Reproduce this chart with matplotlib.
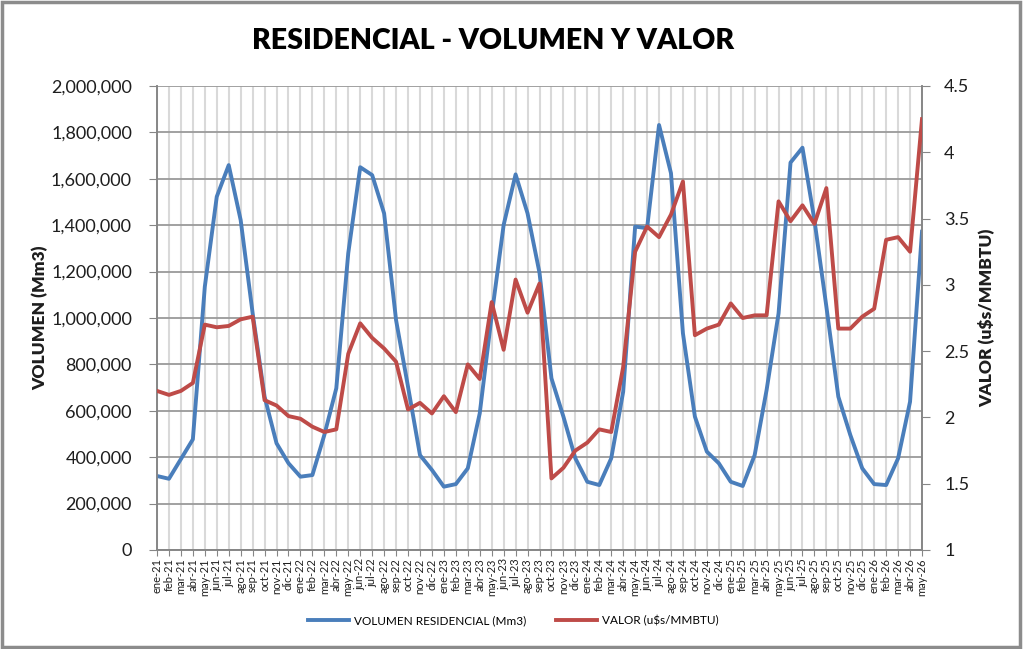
import matplotlib
matplotlib.use("Agg")
import matplotlib.pyplot as plt
import matplotlib.patches as patches
from matplotlib.ticker import FuncFormatter, MultipleLocator

plt.rcParams['font.family'] = ['Lato', 'DejaVu Sans']

# months ene-21 .. may-26
mesesAbr = ["ene", "feb", "mar", "abr", "may", "jun", "jul", "ago", "sep", "oct", "nov", "dic"]
meses = ["%s-%d" % (m, a) for a in range(21, 27) for m in mesesAbr][:65]

# volumen residencial (Mm3)
volumen = [
    319000, 307000, 392000, 477000, 1135000, 1523000, 1659000, 1422000, 1021000, 661000, 460000, 374000,
    316000, 323000, 496000, 697000, 1279000, 1650000, 1616000, 1451000, 991000, 704000, 409000, 345000,
    273000, 284000, 352000, 589000, 1010000, 1401000, 1619000, 1451000, 1195000, 740000, 575000, 395000,
    294000, 280000, 395000, 682000, 1394000, 1387000, 1832000, 1624000, 934000, 575000, 424000, 374000,
    294000, 276000, 409000, 690000, 1020000, 1670000, 1734000, 1422000, 1049000, 661000, 496000, 352000,
    284000, 280000, 395000, 639000, 1372000,
]

# valor (u$s/MMBTU)
valor = [
    2.20, 2.17, 2.20, 2.26, 2.70, 2.68, 2.69, 2.74, 2.76, 2.13, 2.09, 2.01,
    1.99, 1.93, 1.89, 1.91, 2.48, 2.71, 2.60, 2.52, 2.42, 2.06, 2.11, 2.03,
    2.16, 2.04, 2.40, 2.29, 2.87, 2.51, 3.04, 2.79, 3.01, 1.54, 1.62, 1.75,
    1.81, 1.91, 1.89, 2.38, 3.25, 3.44, 3.36, 3.53, 3.78, 2.62, 2.67, 2.70,
    2.86, 2.75, 2.77, 2.77, 3.63, 3.48, 3.60, 3.46, 3.73, 2.67, 2.67, 2.76,
    2.82, 3.34, 3.36, 3.25, 4.25,
]

azul = "#4a7ebb"
rojo = "#be4b48"
txtColor = "#1e1e1e"

fig = plt.figure(figsize=(10.23, 6.49), dpi=100)
ax = fig.add_axes([157 / 1023, 1 - 550 / 649, (922 - 157) / 1023, (550 - 86) / 649])
ax2 = ax.twinx()

x = list(range(len(meses)))
lineVol, = ax.plot(x, volumen, color=azul, lw=2.8, solid_joinstyle="round", zorder=3)
lineVal, = ax2.plot(x, valor, color=rojo, lw=2.8, solid_joinstyle="round", zorder=3)

ax.set_xlim(0, len(meses) - 1)
ax.set_ylim(0, 2000000)
ax2.set_ylim(1, 4.5)

ax.yaxis.set_major_locator(MultipleLocator(200000))
ax.yaxis.set_major_formatter(FuncFormatter(lambda v, p: "{:,.0f}".format(v)))
ax2.yaxis.set_major_locator(MultipleLocator(0.5))
ax2.yaxis.set_major_formatter(FuncFormatter(lambda v, p: ("%g" % v)))

ax.set_xticks(x)
ax.set_xticklabels(meses, rotation=90, fontsize=8, color=txtColor)
ax.tick_params(axis="x", length=4, color="#868686", pad=2)
ax.tick_params(axis="y", labelsize=13, length=6, color="#868686", labelcolor=txtColor, pad=12)
ax2.tick_params(axis="y", labelsize=13, length=6, color="#868686", labelcolor=txtColor, pad=10)

# gridlines: light vertical per month, darker horizontal
ax.grid(axis="x", color="#d9d9d9", lw=1.5)
ax.grid(axis="y", color="#9a9a9a", lw=1.3)
ax.set_axisbelow(True)

for a in (ax, ax2):
    for s in a.spines.values():
        s.set_color("#868686")
        s.set_linewidth(1.2)
    a.spines["top"].set_visible(False)

ax.set_ylabel("VOLUMEN (Mm3)", fontsize=12.5, fontweight="heavy", color=txtColor, labelpad=2)
ax2.set_ylabel("VALOR (u$s/MMBTU)", fontsize=12.5, fontweight="heavy", color=txtColor, labelpad=6)

fig.text(493 / 1023, 1 - 41 / 649, "RESIDENCIAL - VOLUMEN Y VALOR", fontsize=20.5,
         fontweight="heavy", ha="center", va="center", color="black")

fig.legend([lineVol, lineVal], ["VOLUMEN RESIDENCIAL (Mm3)", "VALOR (u$s/MMBTU)"],
           loc="center", bbox_to_anchor=(513 / 1023, 1 - 621 / 649), ncol=2, frameon=False,
           fontsize=8.5, handlelength=3.5, columnspacing=2.5, handletextpad=0.4)

# chart border
fig.patches.append(patches.Rectangle((0.0015, 0.0025), 0.996, 0.994, transform=fig.transFigure,
                                     fill=False, edgecolor="#8c8c8c", lw=2.5))

fig.savefig("out.png", dpi=100)
